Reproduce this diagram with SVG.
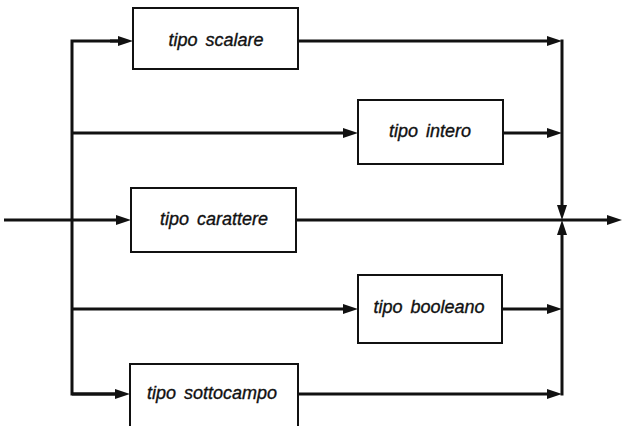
<svg xmlns="http://www.w3.org/2000/svg" width="623" height="426" viewBox="0 0 623 426">
  <style>
    .box { fill: #ffffff; stroke: #111111; stroke-width: 2; }
    .lbl { font-family: "Liberation Sans", "DejaVu Sans", sans-serif; font-style: italic; font-size: 18px; word-spacing: 3px; fill: #111111; stroke: #111111; stroke-width: 0.35; text-anchor: middle; }
    .wire { fill: none; stroke: #111111; stroke-width: 3; stroke-linecap: butt; stroke-linejoin: miter; }
    .arr { marker-end: url(#head); }
  </style>
  <defs>
    <!-- filled arrowhead; the tip sits 13px beyond the end of the wire -->
    <marker id="head" markerUnits="userSpaceOnUse" markerWidth="15" markerHeight="11" refX="2" refY="5.5" orient="auto">
      <path d="M0,0.5 L15,5.5 L0,10.5 z" fill="#111111"/>
    </marker>
  </defs>

  <g id="connectors">
    <!-- entry line -->
    <line class="wire arr" x1="4" y1="220" x2="118" y2="220"/>
    <!-- left distribution bus -->
    <polyline class="wire" points="120,41 72,41 72,394 117,394"/>
    <line class="wire arr" x1="110" y1="41" x2="120" y2="41"/>
    <line class="wire arr" x1="72" y1="394" x2="117" y2="394"/>
    <line class="wire arr" x1="72" y1="133" x2="345" y2="133"/>
    <line class="wire arr" x1="72" y1="309" x2="345" y2="309"/>
    <!-- outputs toward the right collector -->
    <line class="wire arr" x1="298" y1="41" x2="549" y2="41"/>
    <line class="wire arr" x1="503" y1="133" x2="549" y2="133"/>
    <line class="wire arr" x1="502" y1="309" x2="549" y2="309"/>
    <line class="wire arr" x1="298" y1="394" x2="549" y2="394"/>
    <!-- right collector bus -->
    <line class="wire arr" x1="562" y1="39.5" x2="562" y2="207"/>
    <line class="wire arr" x1="562" y1="395.5" x2="562" y2="233"/>
    <!-- exit line -->
    <line class="wire arr" x1="296" y1="220" x2="609" y2="220"/>
  </g>

  <g id="scalare">
    <rect class="box" x="133" y="8" width="165" height="61"/>
    <text class="lbl" x="216" y="46">tipo scalare</text>
  </g>
  <g id="intero">
    <rect class="box" x="358" y="100" width="145" height="64"/>
    <text class="lbl" x="430" y="137">tipo intero</text>
  </g>
  <g id="carattere">
    <rect class="box" x="131" y="188" width="165" height="64"/>
    <text class="lbl" x="214" y="225">tipo carattere</text>
  </g>
  <g id="booleano">
    <rect class="box" x="358" y="275" width="144" height="68"/>
    <text class="lbl" x="429" y="313">tipo booleano</text>
  </g>
  <g id="sottocampo">
    <rect class="box" x="130" y="364" width="168" height="70"/>
    <text class="lbl" x="212" y="399">tipo sottocampo</text>
  </g>
</svg>
